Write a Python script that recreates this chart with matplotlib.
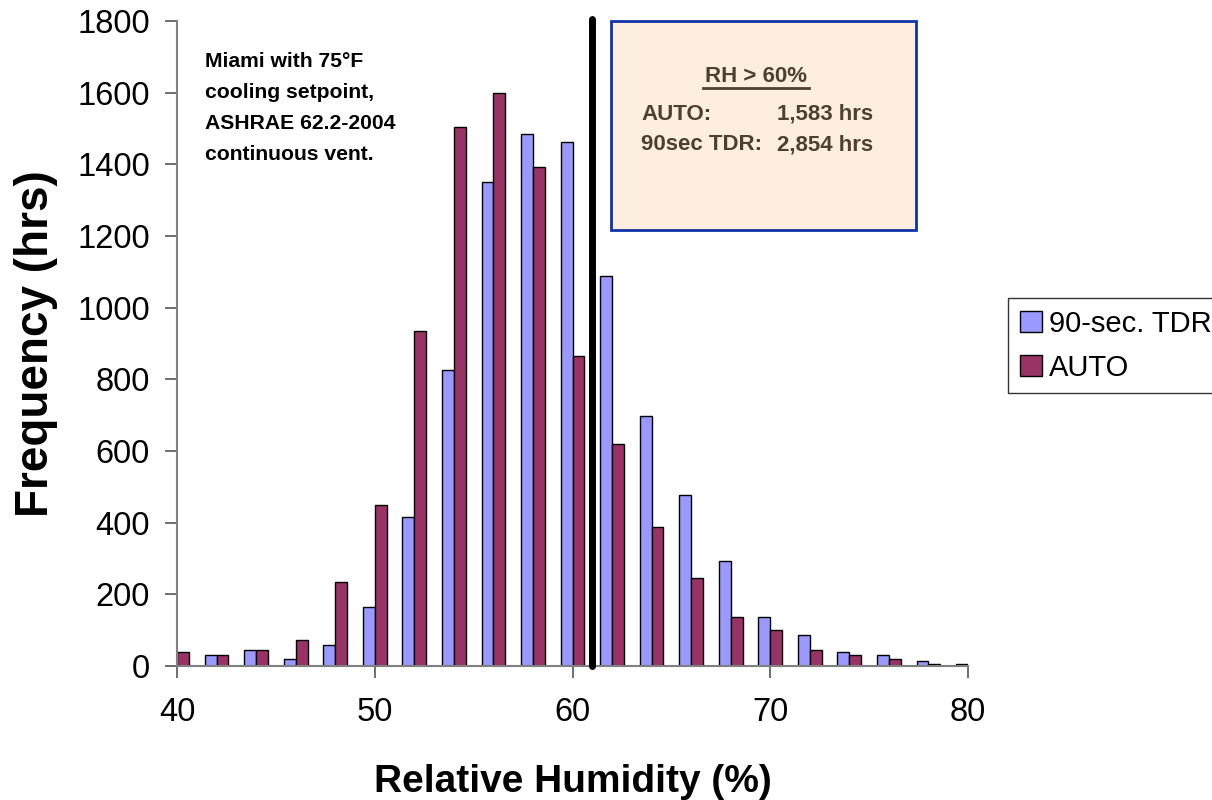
import matplotlib
matplotlib.use("Agg")
import matplotlib.pyplot as plt
import numpy as np
from matplotlib.patches import Rectangle

plt.rcParams['font.family'] = ['Liberation Sans', 'DejaVu Sans']

# Data
bins = [40, 42, 44, 46, 48, 50, 52, 54, 56, 58, 60, 62, 64, 66, 68, 70, 72, 74, 76, 78, 80]
tdr_90sec = [0, 31, 44, 19, 59, 164, 415, 826, 1350, 1484, 1463, 1089, 698, 478, 292, 138, 87, 39, 30, 15, 6]
auto = [39, 31, 44, 72, 234, 449, 934, 1503, 1599, 1392, 865, 620, 389, 246, 138, 100, 46, 30, 19, 6, 0]
series_names = ["90-sec. TDR", "AUTO"]
threshold_x = 61
xticks = [40, 50, 60, 70, 80]
yticks = list(range(0, 1801, 200))

note_text = "Miami with 75°F\ncooling setpoint,\nASHRAE 62.2-2004\ncontinuous vent."
box_title = "RH > 60%"
box_rows = [("AUTO:", "1,583 hrs"), ("90sec TDR:", "2,854 hrs")]

fig = plt.figure(figsize=(12.12, 8.0), dpi=100)
ax = fig.add_axes([177/1212, 1-666/800, (968-177)/1212, (666-21)/800])

x = np.array(bins, dtype=float)
w = 0.6
ax.bar(x - w/2, tdr_90sec, width=w, color='#9999FF', edgecolor='black', linewidth=1.0,
       label=series_names[0], zorder=2)
ax.bar(x + w/2, auto, width=w, color='#993366', edgecolor='black', linewidth=1.0,
       label=series_names[1], zorder=2)

ax.set_xlim(40, 80)
ax.set_ylim(0, 1800)
ax.set_xticks(xticks)
ax.set_yticks(yticks)
ax.tick_params(axis='both', labelsize=23.5, length=8.5, width=1.2, color='#555555', direction='out')
ax.tick_params(axis='x', pad=14)
ax.tick_params(axis='y', pad=11)
for s in ['top', 'right']:
    ax.spines[s].set_visible(False)
for s in ['left', 'bottom']:
    ax.spines[s].set_color('#808080')
    ax.spines[s].set_linewidth(1.5)

ax.set_xlabel("Relative Humidity (%)", fontsize=28, fontweight='bold', labelpad=26)
ax.set_ylabel("Frequency (hrs)", fontsize=33, fontweight='bold', labelpad=14)

# threshold line
ax.plot([threshold_x, threshold_x], [0, 1805], color='black', linewidth=5,
        solid_capstyle='round', clip_on=False, zorder=3)

# note text
fig.text(205/1212, 1-52/800, note_text, fontsize=15.2, fontweight='bold', color='black',
         ha='left', va='top', linespacing=1.8)

# info box
rect = Rectangle((611/1212, 1-230/800), (916-611)/1212, (230-21)/800, transform=fig.transFigure,
                 facecolor='#FDEEE0', edgecolor='#1133AA', linewidth=2, zorder=5)
fig.patches.append(rect)
tc = '#4F3F2F'
fig.text(756/1212, 1-76/800, box_title, fontsize=16, fontweight='bold', color=tc,
         ha='center', va='center', zorder=6)
fig.lines.append(plt.Line2D([703/1212, 809/1212], [1-88/800, 1-88/800], transform=fig.transFigure,
                            color=tc, linewidth=2, zorder=6))
for i, (lab, val) in enumerate(box_rows):
    yy = 1 - (114 + 31*i)/800
    fig.text(641/1212, yy, lab, fontsize=16, fontweight='bold', color=tc, ha='left', va='center', zorder=6)
    fig.text(777/1212, yy, val, fontsize=16, fontweight='bold', color=tc, ha='left', va='center', zorder=6)

leg = fig.legend(loc='upper left', bbox_to_anchor=(1008/1212, 1-298/800), fontsize=21,
                 frameon=True, fancybox=False, edgecolor='black', borderpad=0.4,
                 handlelength=0.75, handleheight=0.75, handletextpad=0.25, labelspacing=0.55,
                 borderaxespad=0)
leg.get_frame().set_linewidth(1.0)

fig.savefig("out.png", dpi=100)
